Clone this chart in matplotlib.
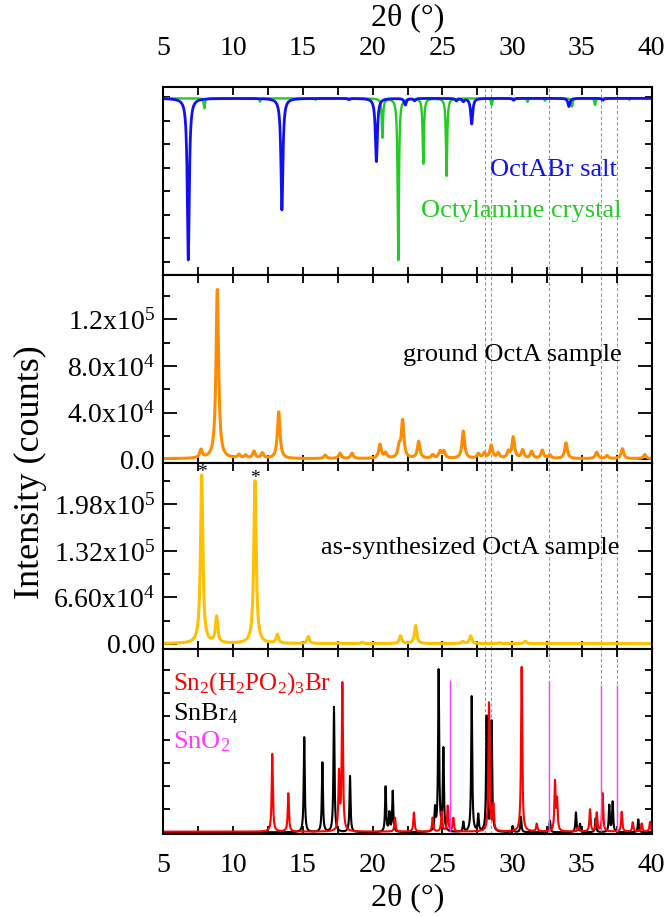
import numpy as np
import matplotlib
matplotlib.use("Agg")
import matplotlib.pyplot as plt
from matplotlib.ticker import FixedLocator, FixedFormatter, MultipleLocator, NullFormatter

plt.rcParams["font.family"] = ["Liberation Serif", "DejaVu Serif"]
plt.rcParams["mathtext.fontset"] = "custom"
plt.rcParams["mathtext.rm"] = "Liberation Serif"
plt.rcParams["mathtext.it"] = "Liberation Serif:italic"

# 2-theta grid (degrees)
two_theta = np.linspace(5, 40, 3501)

# Top panel: simulated reference patterns (arbitrary units, plotted downward)
octabr_pos = [6.79, 13.50, 18.30, 20.27, 22.34, 23.00, 26.00, 26.50, 27.10, 30.10, 34.07, 36.50]
octabr_int = [6.88, 4.75, 0.05, 2.69, 0.28, 0.10, 0.10, 0.12, 1.09, 0.08, 0.35, 0.08]
octylamine_pos = [7.94, 11.93, 15.90, 20.70, 21.84, 23.63, 25.30, 28.53, 31.10, 32.35, 34.30, 35.94, 38.40]
octylamine_int = [0.42, 0.14, 0.06, 1.66, 6.88, 2.77, 3.30, 0.28, 0.15, 0.10, 0.35, 0.28, 0.06]

# Ground OctA sample (counts)
ground_pos = [7.70, 8.87, 10.42, 10.90, 11.50, 12.10, 13.27, 16.60, 17.66, 18.52, 20.53, 20.93,
              21.90, 22.15, 23.30, 24.30, 24.83, 25.10, 26.50, 27.57, 28.00, 28.50, 29.00, 29.73,
              30.08, 30.75, 31.40, 32.16, 32.70, 33.86, 36.06, 36.80, 37.90, 39.50]
ground_int = [7000, 145000, 3000, 2500, 6000, 4500, 40000, 3000, 4500, 4500, 12000, 4500,
              9000, 32000, 14500, 3000, 6000, 6000, 23500, 4000, 4500, 11000, 4500, 5500,
              18000, 7000, 6000, 7000, 3000, 13500, 5500, 2500, 8500, 3500]

# As-synthesized OctA sample (counts)
synth_pos = [7.75, 8.82, 11.57, 13.17, 15.39, 17.59, 19.24, 22.00, 23.08, 26.45, 27.03, 29.06, 30.94]
synth_int = [239000, 37000, 231000, 12500, 10000, 1200, 1800, 11000, 25500, 3000, 11000, 1200, 3500]
star_pos = [7.75, 11.57]

# Bottom panel: reference phases (arbitrary units)
snhpo_pos = [12.81, 13.96, 17.59, 17.83, 21.60, 22.96, 24.30, 24.95, 25.38, 25.78, 28.34, 28.65,
             30.68, 31.76, 33.07, 33.22, 34.74, 35.58, 36.06, 36.48, 37.85, 38.64, 39.28, 39.88]
snhpo_int = [3.35, 1.65, 2.45, 6.35, 0.60, 0.82, 0.60, 0.85, 1.10, 0.58, 5.55, 1.10,
             7.10, 0.33, 2.10, 1.30, 0.20, 0.95, 0.80, 1.65, 0.85, 0.40, 0.35, 0.42]
snbr4_pos = [15.10, 16.40, 17.23, 18.38, 20.93, 21.20, 21.44, 24.47, 24.73, 25.07, 26.50, 27.10,
             27.57, 28.17, 28.53, 30.04, 30.63, 32.71, 34.57, 34.86, 35.98, 36.96, 37.20, 39.04]
snbr4_int = [4.10, 3.00, 5.40, 2.42, 1.95, 0.80, 1.75, 0.95, 6.95, 3.55, 0.42, 5.85,
             0.72, 4.95, 4.75, 0.26, 0.66, 0.50, 0.85, 0.35, 0.60, 1.15, 1.30, 0.56]
sno2_pos = [25.52, 32.66, 36.34, 37.54]
sno2_int = [6.57, 6.53, 6.36, 6.36]

# Reference guide lines across all panels
guide_pos = [28.05, 28.46, 32.66, 36.34, 37.54]

C_BLUE = "#1010f0"
C_GREEN = "#22cc22"
C_ORANGE = "#ff8c00"
C_GOLD = "#ffc000"
C_RED = "#ff0000"
C_MAGENTA = "#ff3cff"


def profile(pos, height, hwhm, base=0.0):
    y = np.full_like(two_theta, base)
    for c, h in zip(pos, height):
        y += h / (1.0 + ((two_theta - c) / hwhm) ** 2)
    return y


W, H = 669, 916
fig = plt.figure(figsize=(W / 100, H / 100), dpi=100)

left = 163.3 / W
width = (651.7 - 163.3) / W
edges = [87.3, 275.0, 463.0, 648.5, 833.5]
axes = []
for i in range(4):
    top, bot = edges[i], edges[i + 1]
    axes.append(fig.add_axes([left, 1 - bot / H, width, (bot - top) / H]))
ax1, ax2, ax3, ax4 = axes

TICK_FS = 20
TEXT_FS = 19
LABEL_FS = 23

for ax in axes:
    ax.set_xlim(5, 40)
    ax.xaxis.set_major_locator(MultipleLocator(5))
    ax.xaxis.set_minor_locator(MultipleLocator(2.5))
    for s in ax.spines.values():
        s.set_linewidth(1.5)
    ax.tick_params(which="both", direction="in", top=True, bottom=True, left=True, right=True,
                   labelbottom=False, labeltop=False, labelsize=TICK_FS, width=1.3)
    ax.tick_params(axis="x", which="major", length=6)
    ax.tick_params(axis="x", which="minor", length=6)
    for xv in guide_pos:
        ax.axvline(xv, color="#999999", ls=(0, (3, 2)), lw=0.8, zorder=0)

# --- top panel ---
ax1.plot(two_theta, -profile(octylamine_pos, octylamine_int, 0.055, 0.05), color=C_GREEN, lw=1.7)
ax1.plot(two_theta, -profile(octabr_pos, octabr_int, 0.085, 0.05), color=C_BLUE, lw=2.0)
ax1.set_ylim(-7.57, 0.42)
ax1.yaxis.set_major_locator(FixedLocator(np.arange(0, -8, -1)))
ax1.yaxis.set_major_formatter(NullFormatter())
ax1.tick_params(axis="y", which="major", length=5)
ax1.tick_params(axis="x", labeltop=True, pad=19)
ax1.xaxis.set_label_position("top")
ax1.set_xlabel("2θ (°)", fontsize=LABEL_FS, labelpad=8)
ax1.text(37.48, -3.35, "OctABr salt", color=C_BLUE, fontsize=TEXT_FS, ha="right", va="baseline")
ax1.text(37.84, -5.09, "Octylamine crystal", color=C_GREEN, fontsize=TEXT_FS, ha="right", va="baseline")

# --- ground sample ---
ax2.plot(two_theta, profile(ground_pos, ground_int, 0.11, 500), color=C_ORANGE, lw=2.2)
ax2.set_ylim(-3200, 1.58e5)
ax2.yaxis.set_major_locator(FixedLocator([0, 4e4, 8e4, 1.2e5]))
ax2.yaxis.set_major_formatter(FixedFormatter(["0.0", r"4.0x10$^{4}$", r"8.0x10$^{4}$", r"1.2x10$^{5}$"]))
ax2.yaxis.set_minor_locator(FixedLocator([2e4, 6e4, 1e5, 1.4e5]))
ax2.tick_params(axis="y", which="major", length=10, labelleft=True, pad=6)
ax2.tick_params(axis="y", which="minor", length=5)
ax2.text(37.84, 8.46e4, "ground OctA sample", fontsize=TEXT_FS, ha="right", va="baseline")

# --- as-synthesized sample ---
ax3.plot(two_theta, profile(synth_pos, synth_int, 0.1, 300), color=C_GOLD, lw=2.2)
ax3.set_ylim(-6660, 2.568e5)
ax3.yaxis.set_major_locator(FixedLocator([0, 6.6e4, 1.32e5, 1.98e5]))
ax3.yaxis.set_major_formatter(FixedFormatter(["0.00", r"6.60x10$^{4}$", r"1.32x10$^{5}$", r"1.98x10$^{5}$"]))
ax3.yaxis.set_minor_locator(FixedLocator([3.3e4, 9.9e4, 1.65e5, 2.31e5]))
ax3.tick_params(axis="y", which="major", length=10, labelleft=True, pad=6)
ax3.tick_params(axis="y", which="minor", length=5)
for sp in star_pos:
    peak = synth_int[synth_pos.index(sp)]
    ax3.annotate("*", xy=(sp, peak), xytext=(0, 2), textcoords="offset points",
                 ha="center", va="center", fontsize=14, color="black")
ax3.text(37.7, 1.279e5, "as-synthesized OctA sample", fontsize=TEXT_FS, ha="right", va="baseline")

# --- reference phases ---
ax4.plot(two_theta, profile(snbr4_pos, snbr4_int, 0.045, 0.0), color="black", lw=1.5)
ax4.plot(two_theta, profile(snhpo_pos, snhpo_int, 0.05, 0.03), color=C_RED, lw=1.5)
ax4.vlines(sno2_pos, 0, sno2_int, color=C_MAGENTA, lw=1.0)
ax4.set_ylim(-0.05, 7.93)
ax4.yaxis.set_major_locator(FixedLocator(np.arange(0, 8, 1)))
ax4.yaxis.set_major_formatter(NullFormatter())
ax4.tick_params(axis="y", which="major", length=5)
ax4.tick_params(axis="x", labelbottom=True, pad=14)
ax4.set_xlabel("2θ (°)", fontsize=LABEL_FS, labelpad=4)
ax4.text(5.72, 6.17, r"Sn$_2$(H$_2$PO$_2$)$_3$Br", color=C_RED, fontsize=TEXT_FS - 1, ha="left", va="baseline")
ax4.text(5.72, 4.81, r"SnBr$_4$", color="black", fontsize=TEXT_FS, ha="left", va="baseline")
ax4.text(5.72, 3.60, r"SnO$_2$", color=C_MAGENTA, fontsize=TEXT_FS, ha="left", va="baseline")

fig.text(30 / W, 1 - 472 / H, "Intensity (counts)", rotation=90, ha="center", va="center",
         fontsize=26)

fig.savefig("out.png", dpi=100)
